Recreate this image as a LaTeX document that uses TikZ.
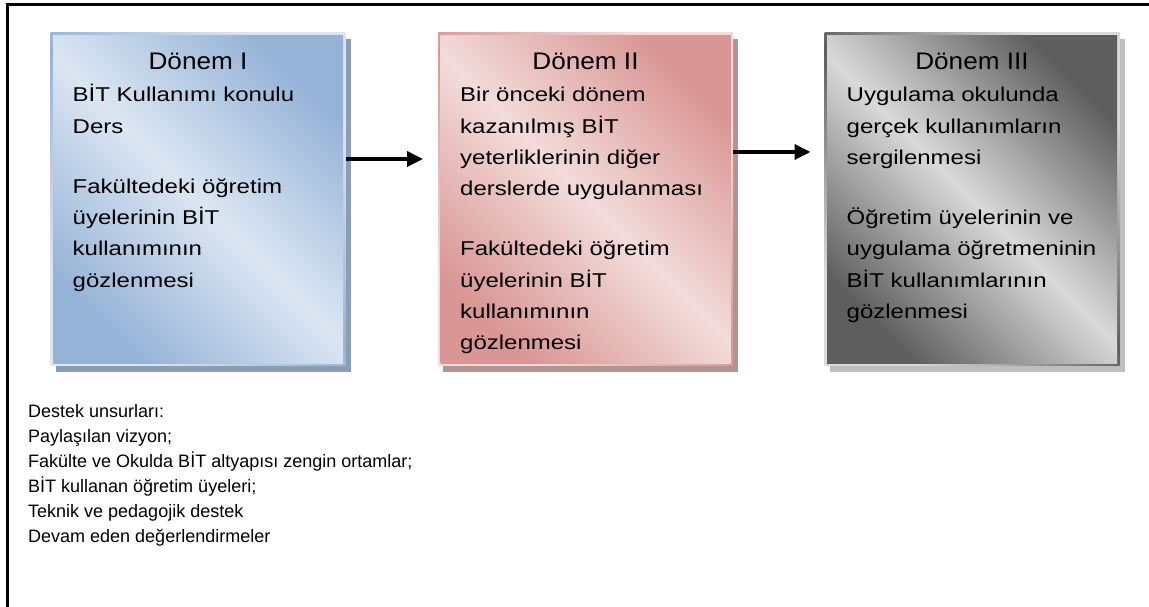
\documentclass[tikz,border=0pt]{standalone}
\usepackage{fontspec}
\setmainfont{Liberation Sans}
\newfontfamily\titlefont[FakeStretch=1.09]{Liberation Sans}
\newfontfamily\periodfont[FakeStretch=1.2]{Liberation Sans}
\usetikzlibrary{arrows.meta,shadows}

\definecolor{blueDark}{HTML}{95B3D7}
\definecolor{blueLight}{HTML}{DCE6F2}
\definecolor{blueShadow}{HTML}{8D9DB3}
\definecolor{redDark}{HTML}{D99694}
\definecolor{redLight}{HTML}{F2DCDB}
\definecolor{redShadow}{HTML}{B39391}
\definecolor{grayDark}{HTML}{5E5E5E}
\definecolor{grayLight}{HTML}{D9D9D9}
\definecolor{grayShadow}{HTML}{BEBEBE}

\tikzset{
  % period box: diagonal two-way gradient, border with the reversed gradient
  period/.style n args={3}{
    rectangle, minimum width=295pt, minimum height=333pt,
    inner sep=0pt, outer sep=0pt, draw=none,
    top color=#2, bottom color=#2, middle color=#1, shading angle=-45,
    general shadow={shadow xshift=5pt, shadow yshift=-6pt, fill=#3},
    path picture={
      \shade[top color=#1, bottom color=#1, middle color=#2, shading angle=-45]
        ([shift={(2.5pt,2.5pt)}]path picture bounding box.south west) rectangle
        ([shift={(-2.5pt,-2.5pt)}]path picture bounding box.north east);
    }
  },
  periodtitle/.style={anchor=base, inner sep=0pt, font=\titlefont\fontsize{24pt}{28pt}\selectfont},
  periodtext/.style={anchor=base west, inner sep=0pt},
  flow/.style={line width=3.5pt, -{Triangle[length=16pt,width=15pt]}},
}

\newcommand{\bodyfont}{\periodfont\fontsize{20pt}{31.3pt}\selectfont}

\begin{document}
\begin{tikzpicture}[x=1pt,y=1pt]
  \useasboundingbox (0,0) rectangle (1149,607);
  \clip (0,0) rectangle (1149,607);
  \fill[white] (0,0) rectangle (1149,607);

  % outer frame
  \draw[line width=2.5pt] (7.5,-20) rectangle (1170,602.5);

  % three periods
  \node[period={blueDark}{blueLight}{blueShadow}] (b1) at (198,407.5) {};
  \node[period={redDark}{redLight}{redShadow}]    (b2) at (585.5,407.5) {};
  \node[period={grayDark}{grayLight}{grayShadow}] (b3) at (972,407.5) {};

  \node[periodtitle] (t1) at ([yshift=-37pt]b1.north) {Dönem I};
  \node[periodtitle] (t2) at ([yshift=-37pt]b2.north) {Dönem II};
  \node[periodtitle] (t3) at ([yshift=-37pt]b3.north) {Dönem III};

  \node[periodtext] (p1) at ([xshift=22pt,yshift=-69pt]b1.north west) {\bodyfont
    \begin{tabular}[t]{@{}l@{}}
      BİT Kullanımı konulu\\
      Ders\\
      \\[-2.6pt]
      Fakültedeki öğretim\\
      üyelerinin BİT\\
      kullanımının\\
      gözlenmesi
    \end{tabular}};

  \node[periodtext] (p2) at ([xshift=22pt,yshift=-69pt]b2.north west) {\bodyfont
    \begin{tabular}[t]{@{}l@{}}
      Bir önceki dönem\\
      kazanılmış BİT\\
      yeterliklerinin diğer\\
      derslerde uygulanması\\
      \\[-2.6pt]
      Fakültedeki öğretim\\
      üyelerinin BİT\\
      kullanımının\\
      gözlenmesi
    \end{tabular}};

  \node[periodtext] (p3) at ([xshift=22pt,yshift=-69pt]b3.north west) {\bodyfont
    \begin{tabular}[t]{@{}l@{}}
      Uygulama okulunda\\
      gerçek kullanımların\\
      sergilenmesi\\
      \\[-2.6pt]
      Öğretim üyelerinin ve\\
      uygulama öğretmeninin\\
      BİT kullanımlarının\\
      gözlenmesi
    \end{tabular}};

  % transitions between periods
  \draw[flow, shorten >=15pt] ([yshift=40.5pt]b1.east) -- ([yshift=40.5pt]b2.west);
  \draw[flow, shorten >=14pt] ([yshift=47.5pt]b2.east) -- ([yshift=47.5pt]b3.west);

  % supporting elements
  \node[periodtext] (support) at (28,189) {\fontsize{18pt}{25pt}\selectfont
    \begin{tabular}[t]{@{}l@{}}
      Destek unsurları:\\
      Paylaşılan vizyon;\\
      Fakülte ve Okulda BİT altyapısı zengin ortamlar;\\
      BİT kullanan öğretim üyeleri;\\
      Teknik ve pedagojik destek\\
      Devam eden değerlendirmeler
    \end{tabular}};
\end{tikzpicture}
\end{document}
